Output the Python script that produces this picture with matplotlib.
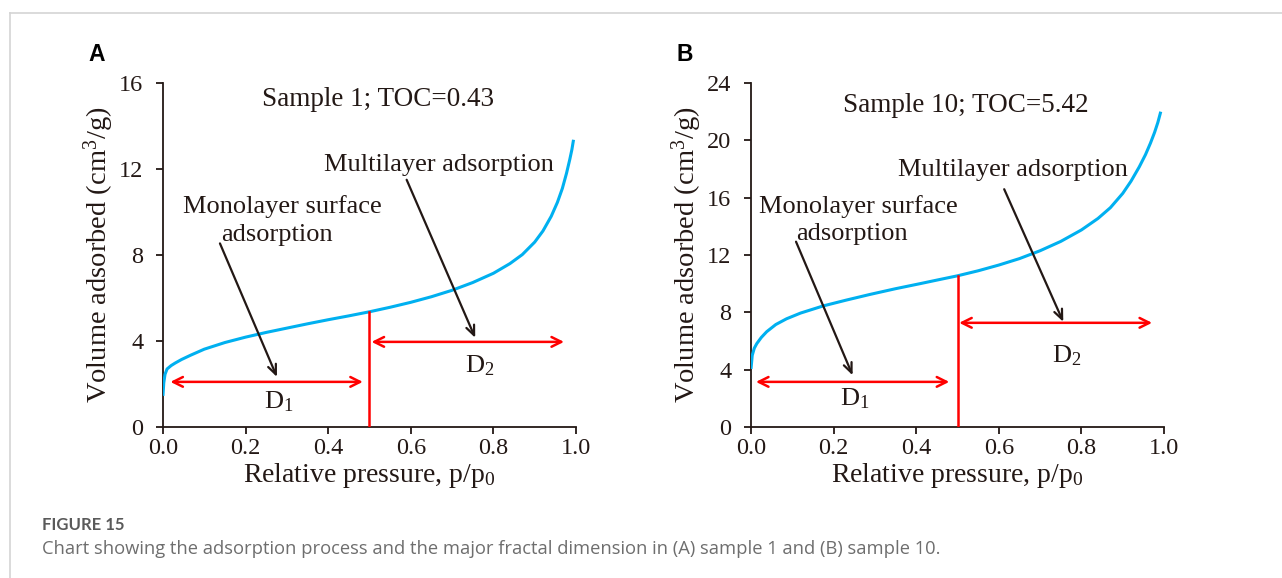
"""
Adsorption isotherms for sample 1 and sample 10 with the D1 / D2 fractal regions.
"""
import matplotlib
matplotlib.use("Agg")
import matplotlib.pyplot as plt
from matplotlib.lines import Line2D

plt.rcParams['font.family'] = ['Liberation Serif', 'DejaVu Serif']
plt.rcParams['mathtext.fontset'] = 'custom'
plt.rcParams['mathtext.rm'] = 'Liberation Serif'
plt.rcParams['mathtext.it'] = 'Liberation Serif:italic'

# ---- data ----
x_s1 = [0.000, 0.002, 0.005, 0.010, 0.020, 0.030, 0.045, 0.067, 0.100, 0.150, 0.200,
        0.250, 0.300, 0.350, 0.400, 0.450, 0.500, 0.550, 0.600, 0.650, 0.700, 0.750,
        0.800, 0.840, 0.870, 0.900, 0.920, 0.940, 0.955, 0.967, 0.977, 0.985, 0.990, 0.994]
y_s1 = [1.45, 2.05, 2.45, 2.70, 2.86, 2.98, 3.14, 3.34, 3.62, 3.93, 4.18,
        4.40, 4.60, 4.80, 4.99, 5.17, 5.36, 5.57, 5.80, 6.06, 6.36, 6.72,
        7.15, 7.60, 8.02, 8.60, 9.12, 9.80, 10.45, 11.10, 11.80, 12.45, 12.90, 13.36]

x_s10 = [0.000, 0.003, 0.008, 0.014, 0.025, 0.038, 0.060, 0.086, 0.120, 0.175, 0.230,
         0.288, 0.350, 0.409, 0.450, 0.500, 0.550, 0.600, 0.650, 0.700, 0.750, 0.800,
         0.840, 0.870, 0.900, 0.920, 0.940, 0.955, 0.967, 0.977, 0.985, 0.992]
y_s10 = [4.05, 5.00, 5.50, 5.82, 6.25, 6.65, 7.15, 7.55, 7.95, 8.45, 8.85,
         9.25, 9.65, 10.00, 10.25, 10.55, 10.90, 11.30, 11.75, 12.30, 12.95, 13.75,
         14.55, 15.30, 16.30, 17.15, 18.15, 19.00, 19.80, 20.55, 21.25, 22.00]

panels = ['A', 'B']
titles = ['Sample 1; TOC=0.43', 'Sample 10; TOC=5.42']
y_max = [16, 24]
split_p = 0.5
# vertical red line height at p/p0 = 0.5
split_v = [5.36, 10.55]
# D1 / D2 double arrows: (x_start, x_end, y)
d1_arrow = [(0.018, 0.484, 2.10), (0.012, 0.480, 3.15)]
d2_arrow = [(0.505, 0.971, 3.96), (0.504, 0.971, 7.27)]
# black pointer arrows: (x_tail, y_tail, x_head, y_head)
mono_arrow = [(0.138, 8.54, 0.276, 2.33), (0.109, 12.93, 0.246, 3.61)]
multi_arrow = [(0.590, 11.50, 0.756, 4.15), (0.613, 16.59, 0.756, 7.34)]
# label positions
title_pos = [(0.52, 15.25), (0.52, 22.45)]
multi_pos = [(0.667, 12.2), (0.635, 17.95)]
mono_pos = [(0.29, 10.25), (0.26, 15.4)]
mono2_pos = [(0.276, 8.95), (0.244, 13.45)]
d1_pos = [(0.28, 1.2), (0.25, 2.0)]
d2_pos = [(0.768, 2.85), (0.764, 5.0)]

curves = [(x_s1, y_s1), (x_s10, y_s10)]

txt_col = '#231815'
blue = '#00b0f0'
red = '#ff0000'

fig = plt.figure(figsize=(12.82, 5.78), dpi=100)
axes_rect = [[0.1271, 0.2612, 0.3222, 0.5952], [0.5858, 0.2612, 0.3222, 0.5952]]

for i in range(2):
    ax = fig.add_axes(axes_rect[i])
    xs, ys = curves[i]
    ax.plot(xs, ys, color=blue, lw=2.2, solid_joinstyle='round', solid_capstyle='butt', zorder=3)
    ax.plot([split_p, split_p], [0, split_v[i]], color=red, lw=1.8, zorder=4)
    for (x0, x1, yy) in (d1_arrow[i], d2_arrow[i]):
        ax.annotate('', xy=(x1, yy), xytext=(x0, yy),
                    arrowprops=dict(arrowstyle='<->,head_length=0.7,head_width=0.35',
                                    color=red, lw=1.8, shrinkA=0, shrinkB=0))
    for (xt, yt, xh, yh) in (mono_arrow[i], multi_arrow[i]):
        ax.annotate('', xy=(xh, yh), xytext=(xt, yt),
                    arrowprops=dict(arrowstyle='->,head_length=0.7,head_width=0.3',
                                    color=txt_col, lw=1.6, shrinkA=0, shrinkB=0))

    fs = 19
    ax.text(*title_pos[i], titles[i], ha='center', va='center', fontsize=19.5, color=txt_col)
    ax.text(*multi_pos[i], 'Multilayer adsorption', ha='center', va='center', fontsize=fs, color=txt_col)
    ax.text(*mono_pos[i], 'Monolayer surface', ha='center', va='center', fontsize=fs, color=txt_col)
    ax.text(*mono2_pos[i], 'adsorption', ha='center', va='center', fontsize=fs, color=txt_col)
    ax.text(*d1_pos[i], r'D$_{\mathregular{1}}$', ha='center', va='center', fontsize=fs, color=txt_col)
    ax.text(*d2_pos[i], r'D$_{\mathregular{2}}$', ha='center', va='center', fontsize=fs, color=txt_col)

    ax.set_xlim(0, 1.0)
    ax.set_ylim(0, y_max[i])
    ax.set_xticks([0, 0.2, 0.4, 0.6, 0.8, 1.0])
    ax.set_xticklabels(['0.0', '0.2', '0.4', '0.6', '0.8', '1.0'])
    ax.set_yticks(range(0, y_max[i] + 1, 4))
    ax.tick_params(direction='out', length=5, width=1.3, labelsize=17.5, colors=txt_col)
    ax.tick_params(axis='x', pad=3)
    ax.tick_params(axis='y', pad=9)
    for s in ('top', 'right'):
        ax.spines[s].set_visible(False)
    for s in ('left', 'bottom'):
        ax.spines[s].set_linewidth(1.3)
        ax.spines[s].set_color(txt_col)
    ax.set_xlabel(r'Relative pressure, p/p$_{0}$', fontsize=20, color=txt_col, labelpad=1)
    ax.set_ylabel(r'Volume adsorbed (cm$^{3}$/g)', fontsize=20.5, color=txt_col, labelpad=2)
    ax.text(-0.18, 1.084, panels[i], transform=ax.transAxes, fontsize=16.5, fontweight='bold',
            family='Liberation Sans', color='black', ha='left', va='center')

# page frame lines
fig.add_artist(Line2D([10 / 1282, 1], [1 - 13 / 578, 1 - 13 / 578], color='#d4d4d4', lw=1.2))
fig.add_artist(Line2D([10 / 1282, 10 / 1282], [0, 1 - 13 / 578], color='#d4d4d4', lw=1.2))

fig.text(42 / 1282, 1 - 525 / 578, 'FIGURE 15', family='Lato', fontweight='bold',
         fontsize=12, color='#5a5a5a', va='center', ha='left')
fig.text(42 / 1282, 1 - 549 / 578,
         'Chart showing the adsorption process and the major fractal dimension in (A) sample 1 and (B) sample 10.',
         family='Open Sans', fontsize=13.25, color='#6e6e6e', va='center', ha='left')

fig.savefig('out.png', dpi=100)
